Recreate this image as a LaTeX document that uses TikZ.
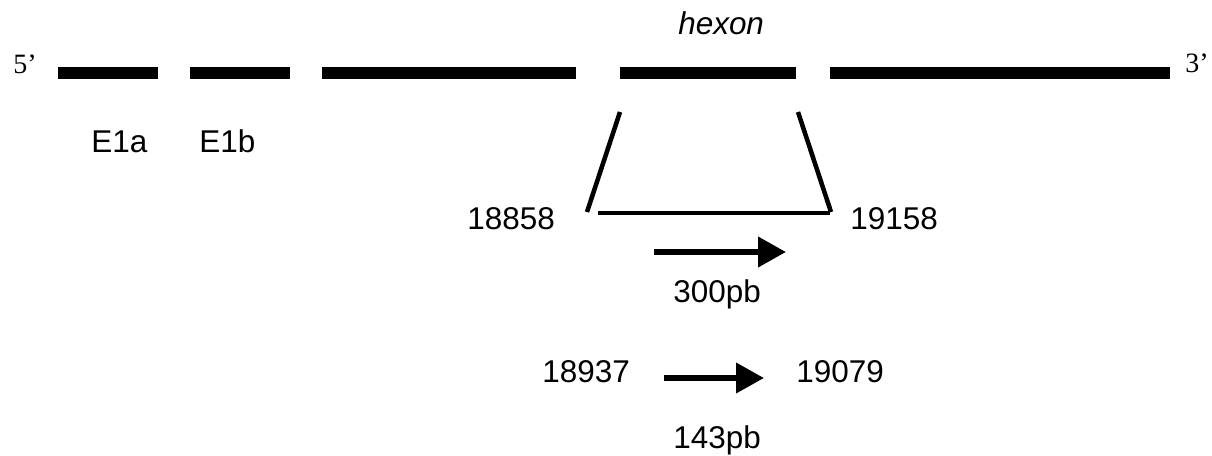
\documentclass[tikz,border=0pt]{standalone}
\usepackage{fontspec}
\setmainfont{Liberation Sans}
\newfontfamily\timesf{Liberation Serif}
\usetikzlibrary{arrows.meta}
\tikzset{
  lbl/.style={inner sep=0pt, anchor=base west, font=\fontsize{23.6pt}{28pt}\selectfont},
  endlbl/.style={inner sep=0pt, anchor=base west, font=\timesf\fontsize{21pt}{25pt}\selectfont},
  exon/.style={line width=9pt},
  frame/.style={line width=3.4pt},
  amp/.style={line width=4.5pt, -{Triangle[length=21pt,width=22pt]}},
}
\begin{document}
\begin{tikzpicture}[x=0.75pt,y=-0.75pt]
\useasboundingbox (0,0) rectangle (1212,456);
% genome segments
\coordinate (s1a) at (58,73);  \coordinate (s1b) at (158,73);
\coordinate (s2a) at (190,73); \coordinate (s2b) at (290,73);
\coordinate (s3a) at (322,73); \coordinate (s3b) at (576,73);
\coordinate (s4a) at (620,73); \coordinate (s4b) at (796,73);
\coordinate (s5a) at (830,73); \coordinate (s5b) at (1170,73);
\draw[exon] (s1a) -- (s1b);
\draw[exon] (s2a) -- (s2b);
\draw[exon] (s3a) -- (s3b);
\draw[exon] (s4a) -- (s4b);
\draw[exon] (s5a) -- (s5b);
% labels
\node[endlbl] (five) at (13,74) {5’};
\node[endlbl] (three) at (1185,73) {3’};
\node[lbl, font=\itshape\fontsize{23.6pt}{28pt}\selectfont] (hexon) at (678,35) {hexon};
\node[lbl] (e1a) at (91,152.5) {E1a};
\node[lbl] (e1b) at (199,152.5) {E1b};
% zoom trapezoid
\coordinate (lt) at (620,112); \coordinate (lb) at (587,212);
\coordinate (rt) at (798,112); \coordinate (rb) at (831,212);
\coordinate (bl) at (598,213); \coordinate (br) at (830,213);
\draw[frame] (lt) -- (lb);
\draw[frame] (rt) -- (rb);
\draw[frame] (bl) -- (br);
\node[lbl] (p18858) at (467,229.5) {18858};
\node[lbl] (p19158) at (850,229.5) {19158};
% amplicon 1
\coordinate (a1s) at (654,252); \coordinate (a1e) at (786,252);
\draw[amp] (a1s) -- (a1e);
\node[lbl] (pb300) at (673,302.5) {300pb};
% amplicon 2
\node[lbl] (p18937) at (542,382.5) {18937};
\node[lbl] (p19079) at (796,382.5) {19079};
\coordinate (a2s) at (664,378); \coordinate (a2e) at (764,378);
\draw[amp] (a2s) -- (a2e);
\node[lbl] (pb143) at (673,448.5) {143pb};
\end{tikzpicture}
\end{document}
